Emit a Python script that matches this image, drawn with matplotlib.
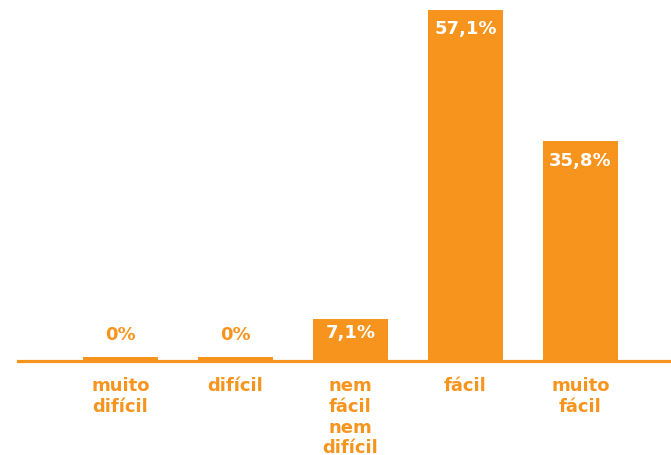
import matplotlib.pyplot as plt

# Survey answers (percent of respondents)
categories = ['muito\ndifícil', 'difícil', 'nem\nfácil\nnem\ndifícil', 'fácil', 'muito\nfácil']
values = [0.0, 0.0, 7.1, 57.1, 35.8]
value_labels = ['0%', '0%', '7,1%', '57,1%', '35,8%']

orange = '#F7941D'
plt.rcParams['font.family'] = ['DejaVu Sans']

fig = plt.figure(figsize=(6.71, 4.56), dpi=100)
ax = fig.add_axes([18 / 671, 92 / 456, 653 / 671, 364 / 456])

x = list(range(len(values)))
# zero answers still get a thin stub, as in the original
heights = [max(v, 1.0) for v in values]
ax.bar(x, heights, width=0.652, color=orange, zorder=2)
ax.axhline(0.4, color=orange, lw=2.3, zorder=1, clip_on=False)

for xi, v, h, lab in zip(x, values, heights, value_labels):
    if v == 0:
        ax.text(xi, h + 3.7, lab, ha='center', va='center', color=orange,
                fontsize=13, fontweight='bold')
    else:
        pad = -2.5 if v < 10 else -7
        ax.annotate(lab, (xi, v), xytext=(0, pad), textcoords='offset points',
                    ha='center', va='top', color='white',
                    fontsize=13, fontweight='bold')

for xi, cat in zip(x, categories):
    ax.text(xi, -2.1, cat, ha='center', va='top', color=orange,
            fontsize=13, fontweight='bold', linespacing=1.2, clip_on=False)

ax.set_xlim(-0.891, 4.787)
ax.set_ylim(0, 58.8)
ax.axis('off')

fig.savefig('out.png', dpi=100)
